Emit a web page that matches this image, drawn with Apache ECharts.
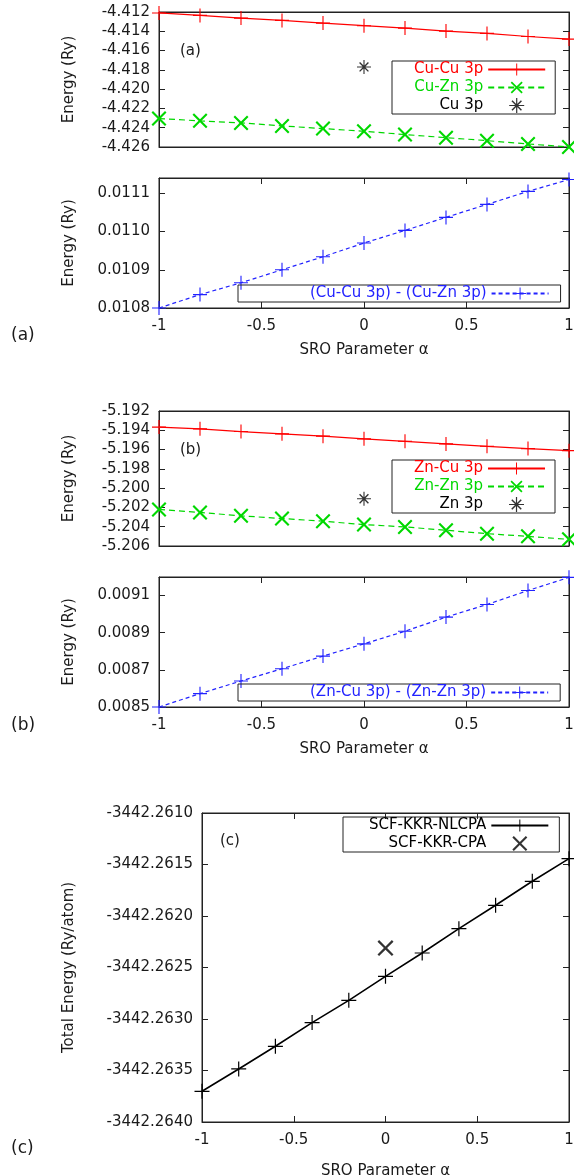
<!DOCTYPE html>
<html>
<head>
<meta charset="utf-8">
<script src="https://cdn.jsdelivr.net/npm/echarts@6/dist/echarts.min.js"></script>
<style>
  html, body { margin: 0; background: #fff; }
  #chart { width: 574px; height: 1175px; }
</style>
</head>
<body>
<div id="chart"></div>
<script>
// SRO parameter alpha, shared by every panel
const alpha = [-1, -0.8, -0.6, -0.4, -0.2, 0, 0.2, 0.4, 0.6, 0.8, 1];
const alphaSingle = [0];

// panel (a)
const cuCu3p = [-4.4121, -4.41235, -4.41263, -4.41287, -4.41315, -4.41342, -4.41367, -4.41398, -4.41422, -4.41454, -4.41481];
const cuZn3p = [-4.42305, -4.42329, -4.4235, -4.42381, -4.42409, -4.42437, -4.42471, -4.42503, -4.42534, -4.42569, -4.4260];
const cu3p = [-4.4177];
const cuDiff = [0.010800, 0.010835, 0.010866, 0.010900, 0.010934, 0.010970, 0.011003, 0.011037, 0.011071, 0.011105, 0.011136];

// panel (b)
const znCu3p = [-5.19367, -5.19385, -5.19413, -5.19437, -5.19461, -5.19489, -5.19514, -5.19541, -5.19566, -5.1959, -5.19611];
const znZn3p = [-5.20221, -5.20252, -5.20287, -5.20315, -5.20343, -5.20378, -5.20402, -5.20437, -5.20472, -5.2050, -5.20531];
const zn3p = [-5.2011];
const znDiff = [0.008500, 0.008572, 0.008640, 0.008706, 0.008774, 0.008840, 0.008908, 0.008984, 0.009052, 0.009127, 0.009198];

// panel (c)
const nlcpa = [-3442.263702, -3442.263485, -3442.263265, -3442.263035, -3442.262819, -3442.262586, -3442.262359, -3442.262123, -3442.261896, -3442.261663, -3442.261443];
const cpa = [-3442.262311];

const FONT = 'DejaVu Sans';
const TXT = '#1a1a1a';
const LINE = '#222';
const RED = '#ff0000';
const GREEN = '#00d800';
const BLUE = '#2222ff';

// gnuplot style point types
const PLUS = 'path://M46,0H54V46H100V54H54V100H46V54H0V46H46Z';
const CROSS = 'path://M0,10L10,0L50,40L90,0L100,10L60,50L100,90L90,100L50,60L10,100L0,90L40,50Z';
const STAR = 'path://M46,0H54V46H100V54H54V100H46V54H0V46H46Z M15,22L22,15L50,43L78,15L85,22L57,50L85,78L78,85L50,57L22,85L15,78L43,50Z';

function pts(xs, ys) {
  return xs.map((x, i) => [x, ys[i]]);
}

function yPair(grid, min, max, step, digits, name, gap, showMax) {
  const base = {
    type: 'value', gridIndex: grid, min: min, max: max, interval: step,
    splitLine: { show: false },
    axisLine: { show: true, onZero: false, lineStyle: { color: LINE } },
    axisTick: { show: true, inside: true, length: 6, lineStyle: { color: LINE } }
  };
  return [
    Object.assign({}, base, {
      position: 'left',
      name: name, nameLocation: 'middle', nameGap: gap, nameRotate: 90,
      nameTextStyle: { fontFamily: FONT, fontSize: 15, color: TXT },
      axisLabel: {
        fontFamily: FONT, fontSize: 15, color: TXT, margin: 9,
        showMaxLabel: showMax,
        formatter: v => v.toFixed(digits)
      }
    }),
    Object.assign({}, base, { position: 'right', axisLabel: { show: false } })
  ];
}

function xPair(grid, withTicks, gap) {
  const base = {
    type: 'value', gridIndex: grid, min: -1, max: 1, interval: 0.5,
    splitLine: { show: false },
    axisLine: { show: true, onZero: false, lineStyle: { color: LINE } },
    axisTick: { show: withTicks, inside: true, length: 6, lineStyle: { color: LINE } }
  };
  return [
    Object.assign({}, base, {
      position: 'bottom',
      name: withTicks ? 'SRO Parameter α' : '',
      nameLocation: 'middle', nameGap: gap,
      nameTextStyle: { fontFamily: FONT, fontSize: 15, color: TXT },
      axisLabel: { show: withTicks, fontFamily: FONT, fontSize: 15, color: TXT, margin: 11 }
    }),
    Object.assign({}, base, { position: 'top', axisLabel: { show: false } })
  ];
}

function lineSeries(name, grid, ys, color, type, width, symbol, size) {
  return {
    type: 'line', name: name, xAxisIndex: grid * 2, yAxisIndex: grid * 2,
    data: pts(alpha, ys), symbol: symbol, symbolSize: size, showAllSymbol: true,
    clip: false,
    lineStyle: { color: color, width: width, type: type },
    itemStyle: { color: color },
    z: 3
  };
}

function scatterSeries(name, grid, ys, symbol, size) {
  return {
    type: 'scatter', name: name, xAxisIndex: grid * 2, yAxisIndex: grid * 2,
    data: pts(alphaSingle, ys), symbol: symbol, symbolSize: size,
    itemStyle: { color: '#000' }, z: 3
  };
}

function legendBox(left, top, padding, items) {
  return {
    left: left, top: top, orient: 'vertical', align: 'right',
    itemWidth: 57, itemHeight: 15, itemGap: 3,
    padding: padding,
    borderColor: LINE, borderWidth: 1, borderRadius: 0,
    selectedMode: false,
    textStyle: { fontFamily: FONT, fontSize: 15 },
    data: items.map(it => ({ name: it[0], textStyle: { color: it[1] } }))
  };
}

const gridBase = { left: 159, right: 5, show: true, borderColor: LINE, borderWidth: 1, backgroundColor: 'transparent', outerBoundsMode: 'none' };

const chart = echarts.init(document.getElementById('chart'));
chart.setOption({
  animation: false,
  backgroundColor: '#fff',
  grid: [
    Object.assign({}, gridBase, { top: 12, height: 135 }),
    Object.assign({}, gridBase, { top: 178, height: 130 }),
    Object.assign({}, gridBase, { top: 411, height: 135 }),
    Object.assign({}, gridBase, { top: 577, height: 130 }),
    Object.assign({}, gridBase, { left: 202, top: 813, height: 309 })
  ],
  xAxis: [].concat(
    xPair(0, false, 0),
    xPair(1, true, 35),
    xPair(2, false, 0),
    xPair(3, true, 35),
    xPair(4, true, 42)
  ),
  yAxis: [].concat(
    yPair(0, -4.426, -4.412, 0.002, 3, 'Energy (Ry)', 82, true),
    yPair(1, 0.0108, 0.01114, 0.0001, 4, 'Energy (Ry)', 82, false),
    yPair(2, -5.206, -5.192, 0.002, 3, 'Energy (Ry)', 82, true),
    yPair(3, 0.0085, 0.0092, 0.0002, 4, 'Energy (Ry)', 82, false),
    yPair(4, -3442.264, -3442.261, 0.0005, 4, 'Total Energy (Ry/atom)', 125, true)
  ),
  legend: [
    legendBox(392, 61, [1, 9, 1, 22], [['Cu-Cu 3p', RED], ['Cu-Zn 3p', GREEN], ['Cu 3p', '#000']]),
    legendBox(238, 285, [1, 11, 1, 72], [['(Cu-Cu 3p) - (Cu-Zn 3p)', BLUE]]),
    legendBox(392, 460, [1, 9, 1, 22], [['Zn-Cu 3p', RED], ['Zn-Zn 3p', GREEN], ['Zn 3p', '#000']]),
    legendBox(238, 684, [1, 11, 1, 72], [['(Zn-Cu 3p) - (Zn-Zn 3p)', BLUE]]),
    legendBox(343, 817, [1, 10, 1, 26], [['SCF-KKR-NLCPA', '#000'], ['SCF-KKR-CPA', '#000']])
  ],
  series: [
    lineSeries('Cu-Cu 3p', 0, cuCu3p, RED, 'solid', 1.2, PLUS, 14),
    lineSeries('Cu-Zn 3p', 0, cuZn3p, GREEN, [6, 4], 1.2, CROSS, 15),
    scatterSeries('Cu 3p', 0, cu3p, STAR, 14),
    lineSeries('(Cu-Cu 3p) - (Cu-Zn 3p)', 1, cuDiff, BLUE, [4, 3], 1.2, PLUS, 14),
    lineSeries('Zn-Cu 3p', 2, znCu3p, RED, 'solid', 1.2, PLUS, 14),
    lineSeries('Zn-Zn 3p', 2, znZn3p, GREEN, [6, 4], 1.2, CROSS, 15),
    scatterSeries('Zn 3p', 2, zn3p, STAR, 14),
    lineSeries('(Zn-Cu 3p) - (Zn-Zn 3p)', 3, znDiff, BLUE, [4, 3], 1.2, PLUS, 14),
    lineSeries('SCF-KKR-NLCPA', 4, nlcpa, '#000', 'solid', 1.6, PLUS, 15),
    scatterSeries('SCF-KKR-CPA', 4, cpa, CROSS, 16)
  ],
  graphic: [
    { type: 'text', left: 180, top: 44, style: { text: '(a)', font: '15px "DejaVu Sans"', fill: TXT } },
    { type: 'text', left: 180, top: 443, style: { text: '(b)', font: '15px "DejaVu Sans"', fill: TXT } },
    { type: 'text', left: 220, top: 834, style: { text: '(c)', font: '15px "DejaVu Sans"', fill: TXT } },
    { type: 'text', left: 11, top: 327, style: { text: '(a)', font: '17px "DejaVu Sans"', fill: TXT } },
    { type: 'text', left: 11, top: 717, style: { text: '(b)', font: '17px "DejaVu Sans"', fill: TXT } },
    { type: 'text', left: 11, top: 1140, style: { text: '(c)', font: '17px "DejaVu Sans"', fill: TXT } }
  ]
});
</script>
</body>
</html>
